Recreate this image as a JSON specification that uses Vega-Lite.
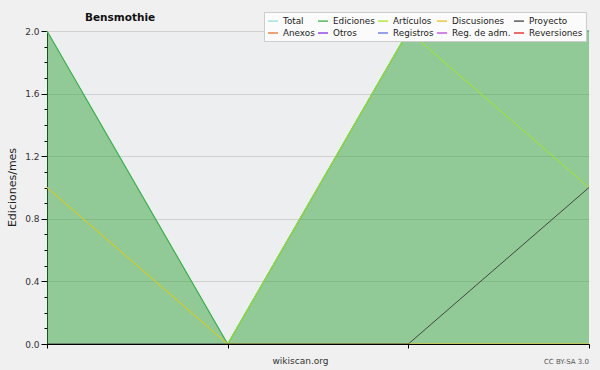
{
  "$schema": "https://vega.github.io/schema/vega-lite/v6.json",
  "width": 542,
  "height": 313,
  "autosize": {"type": "none"},
  "padding": {"left": 47, "top": 31, "right": 11, "bottom": 26},
  "background": "#f0f0f0",
  "config": {"view": {"fill": "#edeef0", "stroke": null}, "font": "DejaVu Sans"},
  "title": {"text": "Bensmothie", "anchor": "start", "frame": "group", "dx": 38, "offset": -12, "fontSize": 10.5, "fontWeight": "bold", "color": "#111111", "font": "DejaVu Sans"},
  "data": {
    "values": [
      {"serie": "Total", "mes": 1, "valor": 2},
      {"serie": "Total", "mes": 2, "valor": 0},
      {"serie": "Total", "mes": 3, "valor": 2},
      {"serie": "Total", "mes": 4, "valor": 2},
      {"serie": "Ediciones", "mes": 1, "valor": 2},
      {"serie": "Ediciones", "mes": 2, "valor": 0},
      {"serie": "Ediciones", "mes": 3, "valor": 2},
      {"serie": "Ediciones", "mes": 4, "valor": 2},
      {"serie": "Artículos", "mes": 1, "valor": 1},
      {"serie": "Artículos", "mes": 2, "valor": 0},
      {"serie": "Artículos", "mes": 3, "valor": 2},
      {"serie": "Artículos", "mes": 4, "valor": 1},
      {"serie": "Discusiones", "mes": 1, "valor": 1},
      {"serie": "Discusiones", "mes": 2, "valor": 0},
      {"serie": "Discusiones", "mes": 3, "valor": 0},
      {"serie": "Discusiones", "mes": 4, "valor": 0},
      {"serie": "Proyecto", "mes": 1, "valor": 0},
      {"serie": "Proyecto", "mes": 2, "valor": 0},
      {"serie": "Proyecto", "mes": 3, "valor": 0},
      {"serie": "Proyecto", "mes": 4, "valor": 1}
    ]
  },
  "encoding": {
    "x": {
      "field": "mes", "type": "quantitative",
      "scale": {"domain": [1, 4], "nice": false, "zero": false},
      "axis": {"values": [1, 2, 3, 4], "labels": false, "grid": false, "title": "wikiscan.org", "titleX": 253, "titleY": 16, "titleBaseline": "middle", "titleFontSize": 9, "titleFontWeight": "normal", "titleColor": "#333333", "domainColor": "#000000", "tickColor": "#000000", "tickSize": 4, "zindex": 1}
    },
    "y": {
      "field": "valor", "type": "quantitative",
      "scale": {"domain": [0, 2], "nice": false},
      "axis": {
        "values": [0, 0.1, 0.2, 0.3, 0.4, 0.5, 0.6, 0.7, 0.8, 0.9, 1.0, 1.1, 1.2, 1.3, 1.4, 1.5, 1.6, 1.7, 1.8, 1.9, 2.0],
        "labelExpr": "round(datum.value*10)%4==0 ? format(datum.value,'.1f') : ''",
        "tickSize": {"condition": {"test": "round(datum.value*10)%4==0", "value": 6}, "value": 3},
        "gridOpacity": {"condition": {"test": "round(datum.value*10)%4==0", "value": 1}, "value": 0},
        "gridColor": "#d0d0d0",
        "labelFontSize": 9, "labelColor": "#333333", "labelPadding": 2, "labelFlush": false, "labelOverlap": false,
        "domainColor": "#000000", "tickColor": "#000000",
        "title": "Ediciones/mes", "titleFontSize": 11, "titleFontWeight": "normal", "titleColor": "#222222",
        "titleX": -35, "titleY": 156, "titleBaseline": "middle"
      }
    }
  },
  "layer": [
    {
      "transform": [{"filter": "datum.serie == 'Ediciones'"}],
      "mark": {"type": "area", "color": "#35a63e", "opacity": 0.5}
    },
    {
      "transform": [{"filter": "datum.serie == 'Total'"}],
      "mark": {"type": "line", "strokeWidth": 1},
      "encoding": {
        "color": {
          "field": "serie", "type": "nominal",
          "scale": {
            "domain": ["Total", "Ediciones", "Artículos", "Discusiones", "Proyecto", "Anexos", "Otros", "Registros", "Reg. de adm.", "Reversiones"],
            "range": ["#8ee0e0", "#3cb043", "#a6e620", "#e8c020", "#444444", "#f07030", "#8030e0", "#6070e0", "#c040e0", "#e02020"]
          },
          "legend": {"orient": "none", "legendX": 217, "legendY": -19, "direction": "horizontal", "columns": 5, "symbolType": "stroke", "symbolSize": 100, "symbolStrokeWidth": 1.3, "labelFontSize": 8.8, "labelFont": "DejaVu Sans", "labelColor": "#222222", "labelOffset": 4, "columnPadding": 0, "rowPadding": 1, "padding": 3, "fillColor": "#fbfbfb", "strokeColor": "#cccccc", "title": null, "labelLimit": 0}
        }
      }
    },
    {
      "transform": [{"filter": "datum.serie == 'Ediciones'"}],
      "mark": {"type": "line", "strokeWidth": 1.2},
      "encoding": {"color": {"field": "serie", "type": "nominal"}}
    },
    {
      "transform": [{"filter": "datum.serie == 'Artículos'"}],
      "mark": {"type": "line", "strokeWidth": 1},
      "encoding": {"color": {"field": "serie", "type": "nominal"}}
    },
    {
      "transform": [{"filter": "datum.serie == 'Discusiones'"}],
      "mark": {"type": "line", "strokeWidth": 1},
      "encoding": {"color": {"field": "serie", "type": "nominal"}}
    },
    {
      "transform": [{"filter": "datum.serie == 'Proyecto'"}],
      "mark": {"type": "line", "strokeWidth": 1},
      "encoding": {"color": {"field": "serie", "type": "nominal"}}
    },
    {
      "data": {"values": [{"mes": 4, "valor": 0, "nota": "CC BY-SA 3.0"}]},
      "mark": {"type": "text", "align": "right", "baseline": "middle", "dy": 18, "fontSize": 7, "color": "#555555"},
      "encoding": {"text": {"field": "nota"}}
    }
  ]
}
